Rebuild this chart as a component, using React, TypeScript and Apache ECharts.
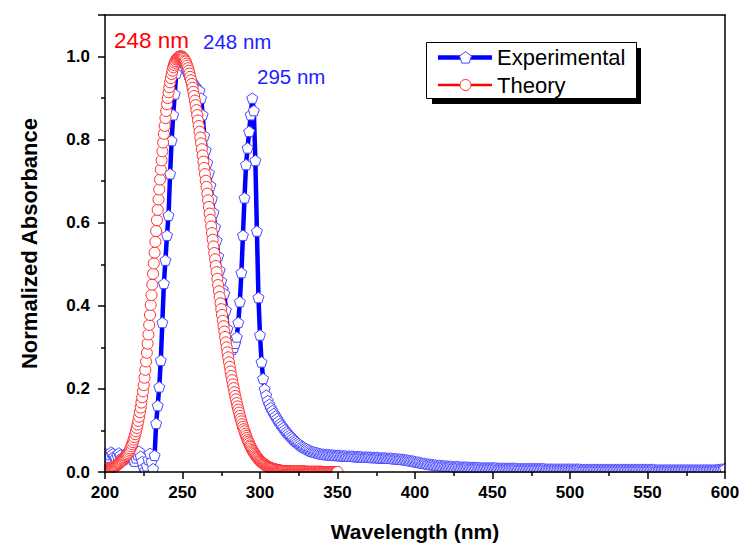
import React, { useEffect, useRef } from "react";
import * as echarts from "echarts";

// Experimental spectrum, 1 nm steps from 200 nm to 600 nm
const EXP_START = 200;
const EXP_STEP = 1;
const expValues = [
  0.045, 0.040, 0.036, 0.042, 0.048, 0.044, 0.038, 0.034, 0.040, 0.046, // 200
  0.041, 0.035, 0.030, 0.038, 0.045, 0.050, 0.043, 0.036, 0.030, 0.026, // 210
  0.034, 0.042, 0.050, 0.038, 0.025, 0.010, 0.004, 0.015, 0.030, 0.045, // 220
  0.025, 0.008, 0.040, 0.117, 0.160, 0.205, 0.269, 0.360, 0.454, 0.510, // 230
  0.570, 0.618, 0.718, 0.798, 0.860, 0.910, 0.960, 0.990, 1.000, 1.000, // 240
  0.995, 0.985, 0.975, 0.965, 0.955, 0.945, 0.940, 0.935, 0.930, 0.925, // 250
  0.920, 0.918, 0.900, 0.860, 0.810, 0.775, 0.745, 0.720, 0.690, 0.658, // 260
  0.625, 0.590, 0.558, 0.520, 0.486, 0.460, 0.440, 0.430, 0.390, 0.345, // 270
  0.310, 0.300, 0.295, 0.300, 0.310, 0.325, 0.360, 0.410, 0.480, 0.570, // 280
  0.660, 0.740, 0.780, 0.820, 0.860, 0.900, 0.870, 0.750, 0.580, 0.420, // 290
  0.330, 0.265, 0.225, 0.200, 0.185, 0.172, 0.163, 0.155, 0.148, 0.141, // 300
  0.135, 0.129, 0.123, 0.117, 0.112, 0.107, 0.102, 0.097, 0.093, 0.089, // 310
  0.085, 0.081, 0.077, 0.074, 0.071, 0.068, 0.065, 0.062, 0.060, 0.058, // 320
  0.056, 0.054, 0.052, 0.050, 0.049, 0.048, 0.047, 0.046, 0.045, 0.044, // 330
  0.043, 0.043, 0.042, 0.042, 0.042, 0.041, 0.041, 0.041, 0.040, 0.040, // 340
  0.040, 0.040, 0.039, 0.039, 0.039, 0.039, 0.038, 0.038, 0.038, 0.038, // 350
  0.038, 0.037, 0.037, 0.037, 0.037, 0.037, 0.036, 0.036, 0.036, 0.036, // 360
  0.036, 0.036, 0.035, 0.035, 0.035, 0.035, 0.035, 0.034, 0.034, 0.034, // 370
  0.034, 0.034, 0.033, 0.033, 0.033, 0.033, 0.032, 0.032, 0.032, 0.031, // 380
  0.031, 0.031, 0.030, 0.030, 0.029, 0.029, 0.028, 0.027, 0.027, 0.026, // 390
  0.025, 0.024, 0.024, 0.023, 0.022, 0.021, 0.021, 0.020, 0.019, 0.019, // 400
  0.018, 0.018, 0.017, 0.017, 0.016, 0.016, 0.016, 0.015, 0.015, 0.015, // 410
  0.014, 0.014, 0.014, 0.014, 0.013, 0.013, 0.013, 0.013, 0.013, 0.012, // 420
  0.012, 0.012, 0.012, 0.012, 0.012, 0.011, 0.011, 0.011, 0.011, 0.011, // 430
  0.011, 0.011, 0.010, 0.010, 0.010, 0.010, 0.010, 0.010, 0.010, 0.010, // 440
  0.010, 0.010, 0.010, 0.009, 0.009, 0.009, 0.009, 0.009, 0.009, 0.009, // 450
  0.009, 0.009, 0.009, 0.009, 0.009, 0.009, 0.008, 0.008, 0.008, 0.008, // 460
  0.008, 0.008, 0.008, 0.008, 0.008, 0.008, 0.008, 0.008, 0.008, 0.008, // 470
  0.008, 0.008, 0.008, 0.008, 0.007, 0.007, 0.007, 0.007, 0.007, 0.007, // 480
  0.007, 0.007, 0.007, 0.007, 0.007, 0.007, 0.007, 0.007, 0.007, 0.007, // 490
  0.007, 0.007, 0.007, 0.007, 0.007, 0.007, 0.007, 0.006, 0.006, 0.006, // 500
  0.006, 0.006, 0.006, 0.006, 0.006, 0.006, 0.006, 0.006, 0.006, 0.006, // 510
  0.006, 0.006, 0.006, 0.006, 0.006, 0.006, 0.006, 0.006, 0.006, 0.006, // 520
  0.006, 0.006, 0.006, 0.006, 0.006, 0.006, 0.006, 0.006, 0.006, 0.006, // 530
  0.006, 0.006, 0.006, 0.006, 0.006, 0.006, 0.006, 0.006, 0.006, 0.006, // 540
  0.006, 0.006, 0.006, 0.006, 0.006, 0.005, 0.005, 0.005, 0.005, 0.005, // 550
  0.005, 0.005, 0.005, 0.005, 0.005, 0.005, 0.005, 0.005, 0.005, 0.005, // 560
  0.005, 0.005, 0.005, 0.005, 0.005, 0.005, 0.005, 0.005, 0.005, 0.005, // 570
  0.005, 0.005, 0.005, 0.005, 0.005, 0.005, 0.005, 0.005, 0.005, 0.005, // 580
  0.005, 0.005, 0.005, 0.005, 0.005, 0.006, 0.006, 0.006, 0.007, 0.007, // 590
  0.008, // 600
];

// Theoretical spectrum, 0.5 nm steps from 200 nm to 350 nm
const THEORY_START = 200;
const THEORY_STEP = 0.5;
const theoryValues = [
  0.004, 0.005, 0.005, 0.006, 0.006, 0.007, 0.008, 0.008, 0.009, 0.010, // 200
  0.011, 0.012, 0.013, 0.014, 0.015, 0.016, 0.018, 0.019, 0.021, 0.022, // 205
  0.024, 0.026, 0.028, 0.030, 0.032, 0.034, 0.036, 0.038, 0.040, 0.042, // 210
  0.045, 0.049, 0.053, 0.057, 0.062, 0.067, 0.072, 0.078, 0.084, 0.091, // 215
  0.098, 0.106, 0.114, 0.123, 0.133, 0.144, 0.155, 0.167, 0.180, 0.194, // 220
  0.209, 0.227, 0.246, 0.266, 0.287, 0.309, 0.331, 0.354, 0.378, 0.402, // 225
  0.426, 0.451, 0.477, 0.502, 0.528, 0.554, 0.580, 0.606, 0.631, 0.656, // 230
  0.680, 0.704, 0.728, 0.750, 0.772, 0.793, 0.814, 0.833, 0.852, 0.869, // 235
  0.885, 0.900, 0.914, 0.926, 0.938, 0.948, 0.958, 0.966, 0.974, 0.980, // 240
  0.985, 0.989, 0.993, 0.995, 0.997, 0.999, 1.000, 1.000, 1.000, 1.000, // 245
  0.999, 0.997, 0.995, 0.991, 0.988, 0.983, 0.978, 0.972, 0.966, 0.959, // 250
  0.951, 0.943, 0.934, 0.925, 0.915, 0.905, 0.894, 0.883, 0.871, 0.859, // 255
  0.846, 0.833, 0.819, 0.805, 0.791, 0.777, 0.762, 0.747, 0.732, 0.717, // 260
  0.701, 0.686, 0.670, 0.654, 0.638, 0.622, 0.607, 0.591, 0.575, 0.559, // 265
  0.543, 0.527, 0.512, 0.496, 0.481, 0.465, 0.450, 0.435, 0.421, 0.406, // 270
  0.392, 0.378, 0.364, 0.351, 0.338, 0.325, 0.312, 0.300, 0.288, 0.276, // 275
  0.264, 0.253, 0.242, 0.231, 0.221, 0.211, 0.202, 0.192, 0.183, 0.175, // 280
  0.166, 0.158, 0.150, 0.143, 0.135, 0.128, 0.122, 0.115, 0.109, 0.103, // 285
  0.098, 0.092, 0.087, 0.082, 0.077, 0.073, 0.069, 0.064, 0.061, 0.057, // 290
  0.053, 0.050, 0.047, 0.044, 0.041, 0.038, 0.036, 0.034, 0.031, 0.029, // 295
  0.027, 0.025, 0.024, 0.022, 0.020, 0.019, 0.018, 0.016, 0.015, 0.014, // 300
  0.013, 0.012, 0.011, 0.010, 0.0095, 0.009, 0.008, 0.0075, 0.007, 0.0064, // 305
  0.006, 0.0055, 0.005, 0.0045, 0.0041, 0.0037, 0.0034, 0.0031, 0.0028, 0.0026, // 310
  0.0024, 0.0022, 0.002, 0.0019, 0.0017, 0.0016, 0.0014, 0.0013, 0.0011, 0.001, // 315
  0.001, 0.001, 0.001, 0.001, 0.001, 0.001, 0.001, 0.001, 0.001, 0.001, // 320
  0.001, 0.001, 0.001, 0.001, 0.001, 0.001, 0.001, 0.001, 0.001, 0.001, // 325
  0.0005, 0.0005, 0.0005, 0.0005, 0.0005, 0.0005, 0.0005, 0.0005, 0.0005, 0.0005, // 330
  0.0005, 0.0005, 0.0005, 0.0005, 0.0005, 0.0005, 0.0005, 0.0005, 0.0005, 0.0005, // 335
  0, 0, 0, 0, 0, 0, 0, 0, 0, 0, // 340
  0, 0, 0, 0, 0, 0, 0, 0, 0, 0, // 345
  0, // 350
];

const seriesNames = ["Experimental", "Theory"];
const peakLabels = ["248 nm", "248 nm", "295 nm"];
const xTicks = { min: 200, max: 600, interval: 50 };
const yTicks = { min: 0, max: 1.1, interval: 0.2 };

const FONT = "'Liberation Sans', Arial, sans-serif";
const PENTAGON =
  "path://M0,-10L9.511,-3.09L5.878,8.09L-5.878,8.09L-9.511,-3.09Z";

function pentagonPoints(cx: number, cy: number, r: number) {
  const pts: number[][] = [];
  for (let k = 0; k < 5; k++) {
    const a = (-90 + k * 72) * (Math.PI / 180);
    pts.push([cx + r * Math.cos(a), cy + r * Math.sin(a)]);
  }
  return pts;
}

export default function App() {
  const ref = useRef<HTMLDivElement>(null);

  useEffect(() => {
    if (!ref.current) return;
    const chart = echarts.init(ref.current, undefined, { renderer: "svg" });

    const expData = expValues.map((v, i) => [EXP_START + i * EXP_STEP, v]);
    const theoryData = theoryValues.map((v, i) => [
      THEORY_START + i * THEORY_STEP,
      v,
    ]);

    const axisLineStyle = { color: "#000", width: 1.5 };

    const option: any = {
      animation: false,
      backgroundColor: "#fff",
      grid: {
        left: 105,
        right: 14,
        top: 15,
        bottom: 71,
        show: false,
        containLabel: false,
        outerBoundsMode: "none",
      },
      xAxis: [
        {
          type: "value",
          min: xTicks.min,
          max: xTicks.max,
          interval: xTicks.interval,
          z: 60,
          axisLine: { show: true, onZero: false, lineStyle: axisLineStyle },
          axisTick: { show: true, inside: false, length: 7, lineStyle: axisLineStyle },
          minorTick: { show: true, splitNumber: 2, length: 4, lineStyle: { color: "#000", width: 1.5 } },
          splitLine: { show: false },
          axisLabel: {
            color: "#000",
            fontFamily: FONT,
            fontWeight: "bold",
            fontSize: 17,
            margin: 12,
          },
          name: "Wavelength (nm)",
          nameLocation: "middle",
          nameGap: 49,
          nameTextStyle: { color: "#000", fontFamily: FONT, fontWeight: "bold", fontSize: 21 },
        },
        {
          type: "value",
          position: "top",
          min: xTicks.min,
          max: xTicks.max,
          z: 60,
          axisLine: { show: true, onZero: false, lineStyle: axisLineStyle },
          axisTick: { show: false },
          axisLabel: { show: false },
          splitLine: { show: false },
        },
      ],
      yAxis: [
        {
          type: "value",
          min: yTicks.min,
          max: yTicks.max,
          interval: yTicks.interval,
          z: 60,
          axisLine: { show: true, onZero: false, lineStyle: axisLineStyle },
          axisTick: { show: true, inside: false, length: 7, lineStyle: axisLineStyle },
          minorTick: { show: true, splitNumber: 2, length: 4, lineStyle: { color: "#000", width: 1.5 } },
          splitLine: { show: false },
          axisLabel: {
            color: "#000",
            fontFamily: FONT,
            fontWeight: "bold",
            fontSize: 17,
            margin: 15,
            showMaxLabel: false,
            formatter: (v: number) => v.toFixed(1),
          },
          name: "Normalized Absorbance",
          nameLocation: "middle",
          nameGap: 65,
          nameTextStyle: { color: "#000", fontFamily: FONT, fontWeight: "bold", fontSize: 22 },
        },
        {
          type: "value",
          position: "right",
          min: yTicks.min,
          max: yTicks.max,
          z: 60,
          axisLine: { show: true, onZero: false, lineStyle: axisLineStyle },
          axisTick: { show: false },
          axisLabel: { show: false },
          splitLine: { show: false },
        },
      ],
      series: [
        {
          name: seriesNames[0],
          type: "line",
          data: expData,
          xAxisIndex: 0,
          yAxisIndex: 0,
          symbol: PENTAGON,
          symbolSize: 11,
          symbolKeepAspect: true,
          showAllSymbol: true,
          lineStyle: { color: "#0000ff", width: 4.5 },
          itemStyle: { color: "#fff", borderColor: "#4848ff", borderWidth: 1 },
          emphasis: { disabled: true },
          z: 2,
        },
        {
          name: seriesNames[1],
          type: "line",
          data: theoryData,
          xAxisIndex: 0,
          yAxisIndex: 0,
          symbol: "circle",
          symbolSize: 11,
          showAllSymbol: true,
          lineStyle: { color: "#ff0000", width: 2 },
          itemStyle: { color: "#fff", borderColor: "#ff2a2a", borderWidth: 1 },
          emphasis: { disabled: true },
          z: 3,
        },
      ],
      graphic: [
        // masks that clip markers at the plot frame
        { type: "rect", z: 50, silent: true, shape: { x: 88, y: 473, width: 651, height: 8 }, style: { fill: "#fff" } },
        { type: "rect", z: 50, silent: true, shape: { x: 88, y: 5, width: 16.2, height: 470 }, style: { fill: "#fff" } },
        { type: "rect", z: 50, silent: true, shape: { x: 726, y: 5, width: 13, height: 476 }, style: { fill: "#fff" } },
        // peak annotations
        {
          type: "text", z: 70, x: 114, y: 40,
          style: { text: peakLabels[0], fill: "#ff0000", font: `22.5px ${FONT}`, textVerticalAlign: "middle" },
        },
        {
          type: "text", z: 70, x: 203, y: 41,
          style: { text: peakLabels[1], fill: "#1e1eff", font: `20.5px ${FONT}`, textVerticalAlign: "middle" },
        },
        {
          type: "text", z: 70, x: 257, y: 76,
          style: { text: peakLabels[2], fill: "#1e1eff", font: `20.5px ${FONT}`, textVerticalAlign: "middle" },
        },
        // legend box with shadow
        { type: "rect", z: 80, shape: { x: 432, y: 48, width: 209, height: 56 }, style: { fill: "#000" } },
        { type: "rect", z: 81, shape: { x: 426.5, y: 42.5, width: 210, height: 56 }, style: { fill: "#fff", stroke: "#000", lineWidth: 1 } },
        { type: "line", z: 82, shape: { x1: 438, y1: 57.5, x2: 492, y2: 57.5 }, style: { stroke: "#0000ff", lineWidth: 4.5 } },
        { type: "polygon", z: 83, shape: { points: pentagonPoints(465.5, 58, 6.3) }, style: { fill: "#fff", stroke: "#4848ff", lineWidth: 1 } },
        {
          type: "text", z: 83, x: 497, y: 57.5,
          style: { text: seriesNames[0], fill: "#000", font: `22px ${FONT}`, textVerticalAlign: "middle" },
        },
        { type: "line", z: 82, shape: { x1: 438, y1: 85, x2: 492, y2: 85 }, style: { stroke: "#ff0000", lineWidth: 2.5 } },
        { type: "circle", z: 83, shape: { cx: 465.5, cy: 85, r: 5.5 }, style: { fill: "#fff", stroke: "#ff2a2a", lineWidth: 1 } },
        {
          type: "text", z: 83, x: 497, y: 85,
          style: { text: seriesNames[1], fill: "#000", font: `22px ${FONT}`, textVerticalAlign: "middle" },
        },
      ],
    };

    chart.setOption(option);
    return () => chart.dispose();
  }, []);

  return (
    <div
      ref={ref}
      style={{ position: "absolute", left: 0, top: 0, width: 739, height: 543, background: "#fff" }}
    />
  );
}
